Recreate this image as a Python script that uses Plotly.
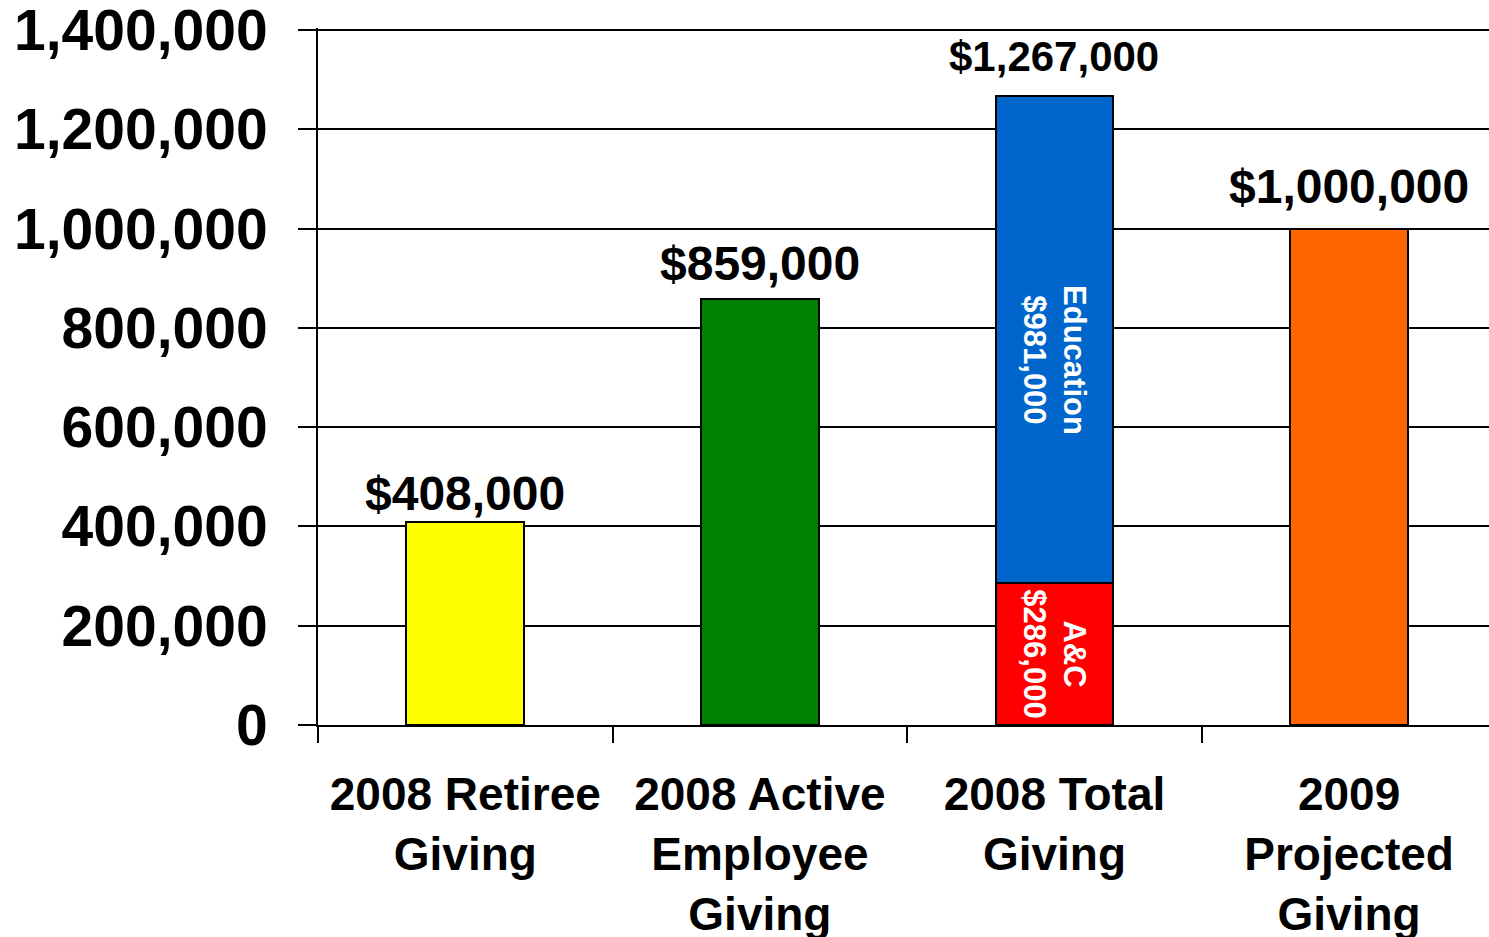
import plotly.graph_objects as go

categories = ["2008 Retiree<br>Giving", "2008 Active<br>Employee<br>Giving",
              "2008 Total<br>Giving", "2009<br>Projected<br>Giving"]
single_values = [408000, 859000, None, 1000000]
single_colors = ["#FFFF00", "#008000", "#0066CC", "#FF6600"]
ac_values = [None, None, 286000, None]
edu_values = [None, None, 981000, None]
value_labels = ["$408,000", "$859,000", "$1,267,000", "$1,000,000"]
label_sizes = [48, 48, 42, 48]
label_shifts = [0, 7, 14, 14]
y_ticks = [0, 200000, 400000, 600000, 800000, 1000000, 1200000, 1400000]

FONT = "Liberation Sans, Arial, sans-serif"
line = dict(color="black", width=2)

fig = go.Figure()
fig.add_trace(go.Bar(x=categories, y=single_values, width=0.4,
                     marker=dict(color=single_colors, line=line)))
fig.add_trace(go.Bar(x=categories, y=ac_values, width=0.4,
                     marker=dict(color="#FF0000", line=line),
                     text=["", "", "<b>A&C<br>$286,000</b>", ""],
                     textposition="inside", textangle=90,
                     insidetextanchor="middle",
                     textfont=dict(family=FONT, size=31, color="white")))
fig.add_trace(go.Bar(x=categories, y=edu_values, width=0.4,
                     marker=dict(color="#0066CC", line=line)))

# Education segment label (rotated), placed at segment centre
fig.add_annotation(x=categories[2], y=ac_values[2] + edu_values[2] / 2,
                   text="<b>Education<br>$981,000</b>", showarrow=False,
                   textangle=90, yshift=-21,
                   font=dict(family=FONT, size=31, color="white"))

totals = []
for s, a, e in zip(single_values, ac_values, edu_values):
    totals.append((s or 0) + (a or 0) + (e or 0))

for c, t, lab, sz, sh in zip(categories, totals, value_labels, label_sizes, label_shifts):
    fig.add_annotation(x=c, y=t, text="<b>" + lab + "</b>", showarrow=False,
                       yanchor="bottom", yshift=sh,
                       font=dict(family=FONT, size=sz, color="black"))

fig.update_layout(
    barmode="stack",
    showlegend=False,
    width=1489, height=937,
    margin=dict(l=318, r=0, t=28, b=212),
    plot_bgcolor="white", paper_bgcolor="white",
    font=dict(family=FONT, color="black"),
)
fig.update_xaxes(
    type="category", range=[-0.5, 3.475], automargin=False,
    showline=True, linecolor="black", linewidth=2,
    ticks="outside", tickson="boundaries", ticklen=16, tickwidth=2, tickcolor="black",
    showgrid=False,
    tickfont=dict(family=FONT, size=46, color="black", weight="bold"),
    ticklabelstandoff=28, ticklabeloverflow="allow",
)
fig.update_yaxes(
    range=[0, 1400000 * 697 / 695], tickvals=y_ticks, automargin=False,
    ticktext=["<b>" + f"{v:,}" + "</b>" for v in y_ticks],
    showline=True, linecolor="black", linewidth=2,
    showgrid=True, gridcolor="black", gridwidth=2,
    ticks="outside", ticklen=18, tickwidth=2, tickcolor="black",
    tickfont=dict(family=FONT, size=57, color="black"),
    ticklabelstandoff=19, ticklabeloverflow="allow",
    zeroline=False,
)

fig.write_html("out.html")
